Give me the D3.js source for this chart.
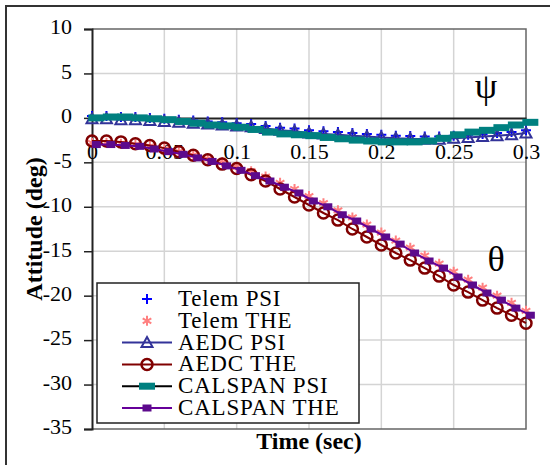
<!DOCTYPE html>
<html>
<head>
<meta charset="utf-8">
<script src="https://cdn.jsdelivr.net/npm/d3@7"></script>
<style>
  body { margin: 0; background: #fff; }
  text { font-family: "Liberation Serif", "Times New Roman", serif; }
</style>
</head>
<body>
<div id="chart"></div>
<script>
// ============
// Data
// ============
var tGrid = [0, 0.01, 0.02, 0.03, 0.04, 0.05, 0.06, 0.07, 0.08, 0.09, 0.10,
  0.11, 0.12, 0.13, 0.14, 0.15, 0.16, 0.17, 0.18, 0.19, 0.20,
  0.21, 0.22, 0.23, 0.24, 0.25, 0.26, 0.27, 0.28, 0.29, 0.30];
var tCalspan = [0.003, 0.013, 0.023, 0.033, 0.043, 0.053, 0.063, 0.073, 0.083, 0.093, 0.103,
  0.113, 0.123, 0.133, 0.143, 0.153, 0.163, 0.173, 0.183, 0.193, 0.203,
  0.213, 0.223, 0.233, 0.243, 0.253, 0.263, 0.273, 0.283, 0.293, 0.303];

var telemPsi = [0.2, 0.2, 0.1, 0.1, 0, -0.1, -0.2, -0.3, -0.4, -0.5, -0.6,
  -0.7, -0.9, -1.1, -1.2, -1.4, -1.5, -1.6, -1.7, -1.8, -1.9,
  -2.0, -2.05, -2.1, -2.1, -2.0, -1.9, -1.8, -1.7, -1.6, -1.4];
var telemThe = [-2.8, -2.8, -2.9, -3.0, -3.2, -3.5, -3.8, -4.2, -4.6, -5.0, -5.5,
  -6.0, -6.6, -7.3, -8.0, -8.8, -9.6, -10.4, -11.2, -12.0, -12.9,
  -13.8, -14.6, -15.5, -16.4, -17.3, -18.2, -19.1, -20.0, -20.8, -21.7];
var aedcPsi = [-0.1, -0.1, -0.2, -0.2, -0.3, -0.4, -0.5, -0.6, -0.7, -0.8, -0.9,
  -1.0, -1.2, -1.4, -1.5, -1.7, -1.8, -1.9, -2.0, -2.1, -2.2,
  -2.3, -2.35, -2.4, -2.4, -2.3, -2.2, -2.1, -2.0, -1.9, -1.7];
var aedcThe = [-2.6, -2.6, -2.7, -2.9, -3.1, -3.4, -3.8, -4.2, -4.7, -5.2, -5.7,
  -6.4, -7.1, -8.0, -8.9, -9.8, -10.7, -11.5, -12.5, -13.4, -14.3,
  -15.2, -16.0, -16.9, -17.8, -18.8, -19.6, -20.5, -21.4, -22.2, -23.1];
var calspanPsi = [0, 0.1, 0.1, 0, -0.1, -0.2, -0.4, -0.6, -0.8, -0.9, -1.05,
  -1.3, -1.6, -1.8, -1.9, -2.0, -2.2, -2.35, -2.5, -2.6, -2.7,
  -2.7, -2.7, -2.6, -2.3, -1.9, -1.6, -1.4, -1.1, -0.8, -0.5];
var calspanThe = [-3.0, -3.0, -3.1, -3.2, -3.5, -3.8, -4.1, -4.5, -4.9, -5.4, -5.9,
  -6.5, -7.1, -7.8, -8.45, -9.35, -10.0, -10.9, -11.6, -12.5, -13.4,
  -14.2, -15.2, -16.1, -16.9, -17.9, -18.8, -19.7, -20.5, -21.4, -22.2];

var xTicks = [0, 0.05, 0.1, 0.15, 0.2, 0.25, 0.3];
var yTicks = [10, 5, 0, -5, -10, -15, -20, -25, -30, -35];
var seriesNames = ["Telem PSI", "Telem THE", "AEDC PSI", "AEDC THE", "CALSPAN PSI", "CALSPAN THE"];

// ============
// Set up of the svg
// ============
var svgWidth = 550;
var svgHeight = 465;
var plot = { left: 92, right: 526, top: 29, bottom: 429 };

var svg = d3.select("#chart")
  .append("svg")
  .attr("width", svgWidth)
  .attr("height", svgHeight);

// outer frame (runs off the right and bottom edge)
svg.append("rect")
  .attr("x", 6).attr("y", 6)
  .attr("width", 600).attr("height", 500)
  .attr("fill", "#fff")
  .attr("stroke", "#333")
  .attr("stroke-width", 2);

var xScale = d3.scaleLinear().domain([0, 0.3]).range([plot.left, plot.right]);
var yScale = d3.scaleLinear().domain([-35, 10]).range([plot.bottom, plot.top]);

// gridlines
svg.append("g").selectAll("line")
  .data(xTicks.slice(1, -1))
  .enter().append("line")
  .attr("x1", d => xScale(d)).attr("x2", d => xScale(d))
  .attr("y1", plot.top).attr("y2", plot.bottom)
  .attr("stroke", "#d4d4d4").attr("stroke-width", 1.5);

svg.append("g").selectAll("line")
  .data(yTicks.filter(d => d !== 0 && d !== 10 && d !== -35))
  .enter().append("line")
  .attr("x1", plot.left).attr("x2", plot.right)
  .attr("y1", d => yScale(d)).attr("y2", d => yScale(d))
  .attr("stroke", "#d4d4d4").attr("stroke-width", 1.5);

// plot border
svg.append("path")
  .attr("d", `M${plot.left},${plot.top}H${plot.right}V${plot.bottom}H${plot.left}`)
  .attr("fill", "none")
  .attr("stroke", "#666")
  .attr("stroke-width", 1.5);

// y axis
var leftAxis = d3.axisLeft(yScale).tickValues(yTicks).tickSize(8).tickFormat(d3.format("d"));
var yAxis = svg.append("g")
  .attr("transform", `translate(${plot.left}, 0)`)
  .call(leftAxis);
yAxis.select(".domain").attr("stroke", "#222").attr("stroke-width", 2);
yAxis.selectAll(".tick line").attr("stroke", "#222").attr("stroke-width", 1.5);
yAxis.selectAll(".tick text")
  .attr("x", -20)
  .attr("dy", "0.22em")
  .attr("fill", "#000")
  .style("font-size", "22px")
  .style("font-family", "Liberation Serif, serif")
  .text(d => d3.format("d")(d).replace("\u2212", "-"));

// x axis sits on zero
var bottomAxis = d3.axisBottom(xScale).tickValues(xTicks).tickSize(0).tickFormat(d => String(d));
var xAxis = svg.append("g")
  .attr("transform", `translate(0, ${yScale(0)})`)
  .call(bottomAxis);
xAxis.select(".domain").attr("stroke", "#222").attr("stroke-width", 2);
xAxis.selectAll(".tick text")
  .attr("y", 26)
  .attr("dy", "0.71em")
  .attr("fill", "#000")
  .style("font-size", "22px")
  .style("font-family", "Liberation Serif, serif");

// ============
// Series
// ============
function pts(ts, vs) {
  return ts.map((t, i) => [t, vs[i]]);
}

var line = d3.line().x(d => xScale(d[0])).y(d => yScale(d[1]));

function drawLine(data, color) {
  svg.append("path")
    .datum(data)
    .attr("d", line)
    .attr("fill", "none")
    .attr("stroke", color)
    .attr("stroke-width", 2);
}

var plusPath = "M-5,0H5M0,-5V5";
var starPath = "M0,-5V5M-4.3,-2.5L4.3,2.5M-4.3,2.5L4.3,-2.5";
var triPath = "M0,-5.5L5.5,4.5H-5.5Z";

function drawMarkers(data, kind) {
  var g = svg.append("g");
  data.forEach(function(d) {
    markerAt(g, xScale(d[0]), yScale(d[1]), kind);
  });
}

function markerAt(g, cx, cy, kind) {
  if (kind === "plus") {
    g.append("path").attr("d", plusPath).attr("transform", `translate(${cx},${cy})`)
      .attr("stroke", "#0000ff").attr("stroke-width", 2).attr("fill", "none");
  } else if (kind === "star") {
    g.append("path").attr("d", starPath).attr("transform", `translate(${cx},${cy})`)
      .attr("stroke", "#ff8080").attr("stroke-width", 2).attr("fill", "none");
  } else if (kind === "tri") {
    g.append("path").attr("d", triPath).attr("transform", `translate(${cx},${cy})`)
      .attr("stroke", "#333399").attr("stroke-width", 2).attr("fill", "none");
  } else if (kind === "circle") {
    g.append("circle").attr("cx", cx).attr("cy", cy).attr("r", 5.5)
      .attr("stroke", "#800000").attr("stroke-width", 2.5).attr("fill", "none");
  } else if (kind === "teal") {
    g.append("rect").attr("x", cx - 8).attr("y", cy - 3.5).attr("width", 16).attr("height", 7)
      .attr("fill", "#008080");
  } else if (kind === "purple") {
    g.append("rect").attr("x", cx - 4.5).attr("y", cy - 3.5).attr("width", 9).attr("height", 7)
      .attr("fill", "#5c0a8c");
  }
}

drawMarkers(pts(tGrid, telemPsi), "plus");
drawMarkers(pts(tGrid, telemThe), "star");
drawLine(pts(tGrid, aedcPsi), "#333399");
drawMarkers(pts(tGrid, aedcPsi), "tri");
drawLine(pts(tGrid, aedcThe), "#800000");
drawMarkers(pts(tGrid, aedcThe), "circle");
drawLine(pts(tCalspan, calspanPsi), "#000");
drawMarkers(pts(tCalspan, calspanPsi), "teal");
drawLine(pts(tCalspan, calspanThe), "#660099");
drawMarkers(pts(tCalspan, calspanThe), "purple");

// greek labels
svg.append("text").attr("x", 486).attr("y", 98)
  .attr("text-anchor", "middle").style("font-size", "36px").text("\u03C8");
svg.append("text").attr("x", 496).attr("y", 271)
  .attr("text-anchor", "middle").style("font-size", "36px").text("\u03B8");

// ============
// Legend
// ============
var legend = svg.append("g");
legend.append("rect")
  .attr("x", 97).attr("y", 283).attr("width", 262).attr("height", 140)
  .attr("fill", "#fff").attr("stroke", "#222").attr("stroke-width", 1.5);

var legendKinds = [
  { kind: "plus", line: null },
  { kind: "star", line: null },
  { kind: "tri", line: "#333399" },
  { kind: "circle", line: "#800000" },
  { kind: "teal", line: "#000" },
  { kind: "purple", line: "#660099" }
];

seriesNames.forEach(function(name, i) {
  var base = 306 + i * 21.8;
  var cy = base - 7;
  if (legendKinds[i].line) {
    legend.append("line")
      .attr("x1", 122).attr("x2", 172).attr("y1", cy).attr("y2", cy)
      .attr("stroke", legendKinds[i].line).attr("stroke-width", 2);
  }
  markerAt(legend, 147, cy, legendKinds[i].kind);
  legend.append("text")
    .attr("x", 178).attr("y", base)
    .style("font-size", "23px")
    .style("letter-spacing", "0.8px")
    .text(name);
});

// ============
// Axis titles
// ============
svg.append("text")
  .attr("x", (plot.left + plot.right) / 2)
  .attr("y", 449)
  .attr("text-anchor", "middle")
  .style("font-size", "24px")
  .style("font-weight", "bold")
  .text("Time (sec)");

svg.append("text")
  .attr("transform", `translate(42, ${(plot.top + plot.bottom) / 2}) rotate(-90)`)
  .attr("text-anchor", "middle")
  .style("font-size", "24px")
  .style("font-weight", "bold")
  .text("Attitude (deg)");
</script>
</body>
</html>
